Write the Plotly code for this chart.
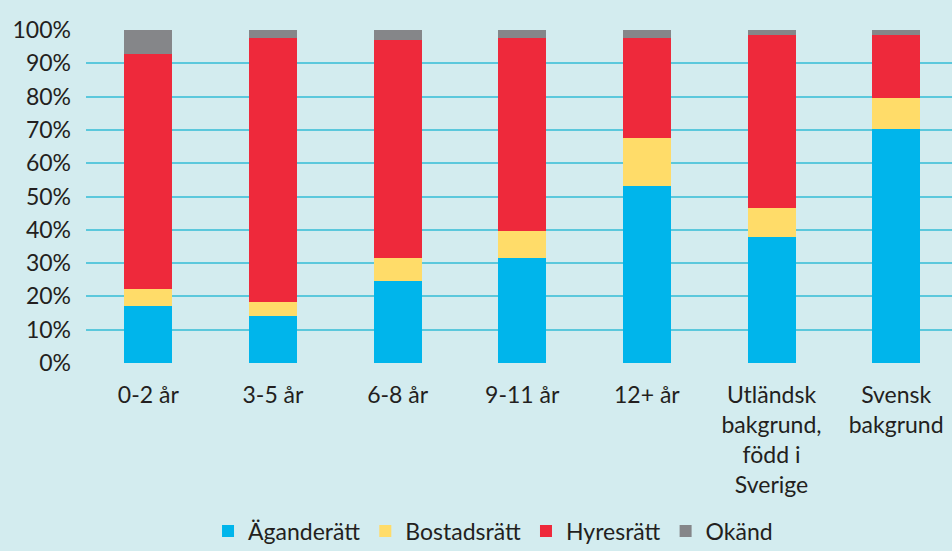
import plotly.graph_objects as go

categories = ["0-2 år", "3-5 år", "6-8 år", "9-11 år", "12+ år",
              "Utländsk<br>bakgrund,<br>född i<br>Sverige", "Svensk<br>bakgrund"]
agande = [17.0, 14.0, 24.6, 31.6, 53.3, 37.7, 70.2]
bostad = [5.1, 4.3, 7.0, 8.1, 14.4, 8.7, 9.5]
hyres = [70.6, 79.4, 65.5, 58.0, 30.0, 52.0, 18.7]
okand = [7.3, 2.3, 2.9, 2.3, 2.3, 1.6, 1.6]
y_ticks = [0, 10, 20, 30, 40, 50, 60, 70, 80, 90, 100]

series = [
    ("Äganderätt", agande, "#00b5eb"),
    ("Bostadsrätt", bostad, "#ffdc69"),
    ("Hyresrätt", hyres, "#ee293b"),
    ("Okänd", okand, "#858689"),
]

fig = go.Figure()
for name, vals, col in series:
    fig.add_trace(go.Bar(
        x=list(range(len(categories))), y=vals, name=name,
        marker=dict(color=col, line=dict(width=0)),
        width=0.385,
    ))

font_family = "Lato, 'Open Sans', sans-serif"
fig.update_layout(
    barmode="stack",
    width=952, height=551,
    margin=dict(l=86, r=0, t=30, b=188, autoexpand=False),
    paper_bgcolor="#d3ecef",
    plot_bgcolor="#d3ecef",
    font=dict(family=font_family, size=23, color="#231f20"),
    showlegend=True,
    legend=dict(orientation="h", x=0.47, xanchor="center", y=-0.505, yanchor="middle",
                font=dict(size=23), traceorder="normal", itemwidth=30,
                bgcolor="rgba(0,0,0,0)"),
    xaxis=dict(
        tickmode="array", tickvals=list(range(len(categories))), ticktext=categories,
        range=[-0.5, 6.448], showgrid=False, zeroline=False, showline=False,
        ticks="", ticklabelstandoff=16, tickfont=dict(size=23), automargin=False,
    ),
    yaxis=dict(
        range=[0, 100], tickvals=y_ticks, ticktext=[f"{v}%" for v in y_ticks],
        showgrid=True, gridcolor="#5bc8dc", gridwidth=2, zeroline=False,
        showline=False, ticks="", ticklabelstandoff=14, tickfont=dict(size=23),
        automargin=False,
    ),
)

fig.write_html(
    "out.html",
    config={"displayModeBar": False},
    post_script="document.body.style.margin='0';document.body.style.padding='0';"
                "document.documentElement.style.background='#d3ecef';",
)
